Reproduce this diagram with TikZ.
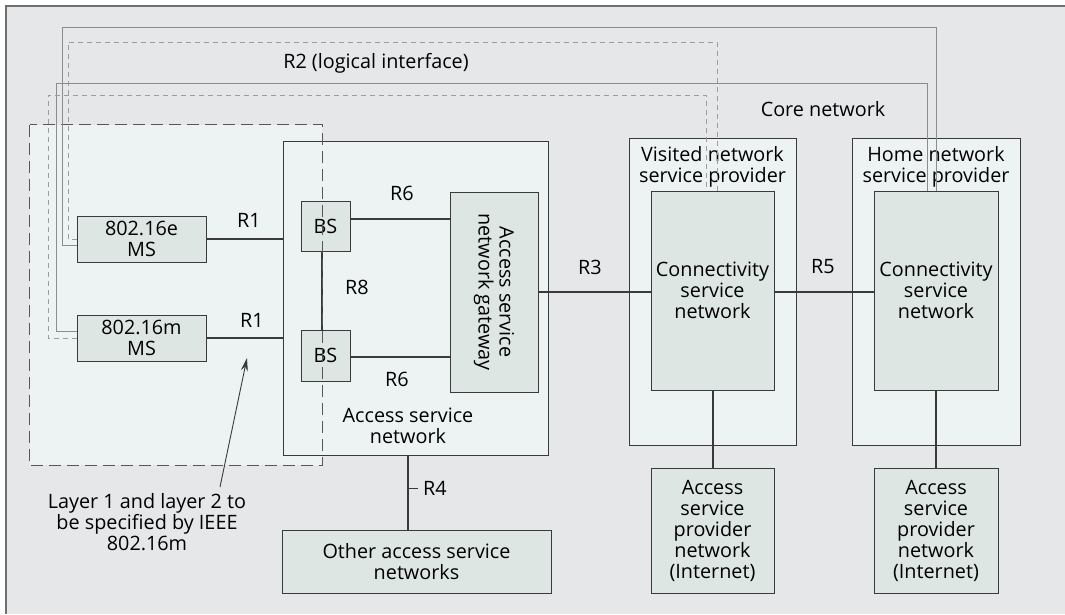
\documentclass[tikz,border=0pt]{standalone}
\usepackage{fontspec}
\setmainfont{Open Sans}
\usetikzlibrary{arrows.meta}
\definecolor{panel}{HTML}{E6E7E8}
\definecolor{zone}{HTML}{EDF2F2}
\definecolor{boxfill}{HTML}{DEE6E3}
\definecolor{frame}{HTML}{3A3A3A}
\definecolor{rtwo}{HTML}{8C8C8C}
\tikzstyle{netbox}=[draw=frame, fill=boxfill, line width=0.9pt, align=center, inner sep=0pt]
\tikzstyle{zonebox}=[draw=frame, fill=zone, line width=0.9pt, inner sep=0pt]
\tikzstyle{lbl}=[align=center, inner sep=0pt]
\tikzstyle{rtwoline}=[draw=rtwo, line width=0.8pt]
\tikzstyle{rtwodash}=[draw=rtwo!85, line width=0.8pt, dash pattern=on 5pt off 4pt]
\newcommand{\netbox}{\node[netbox]}
\newcommand{\lbl}{\node[lbl]}

\begin{document}
\begin{tikzpicture}[x=1pt, y=-1pt,
    every node/.style={font=\fontsize{19.8}{21}\selectfont},
    every edge/.style={draw=frame, line width=2pt}
]
\path[use as bounding box] (0,0) rectangle (1065,614);
\fill[panel] (6,6) rectangle (1065,614);
\draw[rtwo!80!black, line width=1.5pt] (6,614) -- (6,6) -- (1065,6);

% left side: mobile stations and access service network
\node[zonebox, draw=none, minimum width=292pt, minimum height=340pt] (zone) at (176,295) {};
\node[zonebox, minimum width=265pt, minimum height=314pt] (asn) at (415.5,298) {};
\lbl (asnname) at (408,426) {Access service\\network};
\netbox[minimum width=129pt, minimum height=46pt] (mse) at (141.5,239) {802.16e\\MS};
\netbox[minimum width=129pt, minimum height=46pt] (msm) at (141.5,338) {802.16m\\MS};
\netbox[minimum width=49pt, minimum height=50pt] (bsa) at (325.5,226) {BS};
\netbox[minimum width=49pt, minimum height=51pt] (bsb) at (325.5,355.5) {BS};
\netbox[minimum width=88pt, minimum height=200pt] (gw) at (494,292) {};
\lbl[rotate=-90] (gwname) at (gw) {Access service\\network gateway};
\netbox[minimum width=269pt, minimum height=63pt] (other) at (416.5,561.5) {Other access service\\networks};

% core network
\lbl (core) at (823,109) {Core network};
\node[zonebox, minimum width=167pt, minimum height=307pt] (vsp) at (712.5,291.5) {};
\node[zonebox, minimum width=168pt, minimum height=307pt] (hsp) at (936,291.5) {};
\lbl (vspname) at (712.5,167) {Visited network\\service provider};
\lbl (hspname) at (936,167) {Home network\\service provider};
\netbox[minimum width=123pt, minimum height=199pt] (vcsn) at (712.5,290.5) {Connectivity\\service\\network};
\netbox[minimum width=124pt, minimum height=199pt] (hcsn) at (936,290.5) {Connectivity\\service\\network};
\netbox[minimum width=123pt, minimum height=125pt] (vasp) at (712.5,530.5) {Access\\service\\provider\\network\\(Internet)};
\netbox[minimum width=124pt, minimum height=125pt] (hasp) at (936,530.5) {Access\\service\\provider\\network\\(Internet)};

\coordinate (rfour) at (408,455);
\coordinate (rfourtick) at (418,488);
\path
(mse.east) edge (mse.east -| asn.west)
(msm.east) edge (msm.east -| asn.west)
([yshift=7pt]bsa.east) edge ([yshift=7pt]bsa.east -| gw.west)
([yshift=-1pt]bsb.east) edge ([yshift=-1pt]bsb.east -| gw.west)
([xshift=-3.5pt]bsa.south) edge ([xshift=-3.5pt]bsb.north)
(gw.east) edge (gw.east -| vcsn.west)
(vcsn.east |- gw.east) edge (gw.east -| hcsn.west)
(vcsn.south) edge (vasp.north)
(hcsn.south) edge (hasp.north)
(rfour) edge (rfour |- other.north)
;
\draw[frame, line width=1pt] (rfourtick) -- (rfourtick -| rfour);

\lbl (rone) at (249,220) {R1};
\lbl (roneb) at (252,320) {R1};
\lbl (rsix) at (402,193) {R6};
\lbl (rsixb) at (397,379) {R6};
\lbl (reight) at (357,287) {R8};
\lbl (rthree) at (590,267) {R3};
\lbl (rfive) at (823,267) {R5};
\lbl (rfourname) at (435,488) {R4};

% layer 1/2 zone border
\draw[frame!85, line width=1.1pt, dash pattern=on 12pt off 6pt] (zone.north west) rectangle (zone.south east);

% R2 logical interface
\lbl (rtwo) at (376,63) {R2 (logical interface)};
\draw[rtwoline] ([yshift=-6pt]mse.west) -| (62,27) -| (hcsn.north);
\draw[rtwodash] (mse.west) -| (68,42) -| ([xshift=4.5pt]vcsn.north);
\draw[rtwoline] ([yshift=7pt]msm.west) -| (56,83) -| ([xshift=-9pt]hcsn.north);
\draw[rtwodash] (msm.west) -| (48,95) -| ([xshift=-6.5pt]vcsn.north);

% note on layer 1 and 2
\lbl (note) at (147,522) {Layer 1 and layer 2 to\\be specified by IEEE\\802.16m};
\coordinate (notetail) at (220,487);
\coordinate (notetip) at (247,358);
\draw[frame, line width=0.9pt, -{Stealth[length=13pt, width=7pt]}] (notetail) -- (notetip);
\end{tikzpicture}
\end{document}
